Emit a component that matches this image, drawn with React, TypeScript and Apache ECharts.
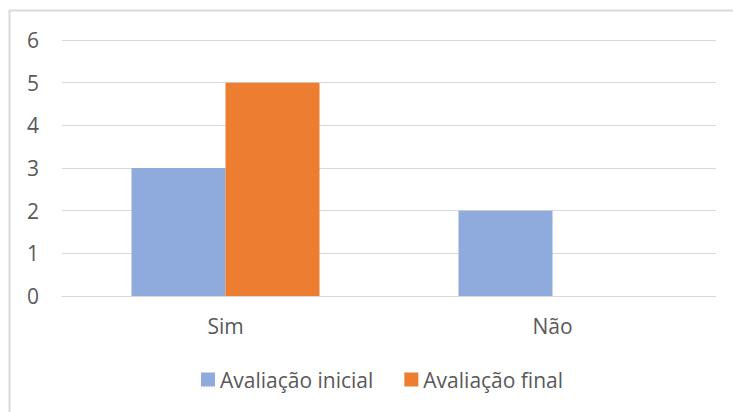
import React, { useEffect, useRef } from "react";
import * as echarts from "echarts";

const categories = ["Sim", "Não"];
const seriesNames = ["Avaliação inicial", "Avaliação final"];
const inicial = [3, 2];
const final = [5, 0];
const colors = ["#8faadc", "#ed7d31"];
const FONT = "'Open Sans', 'Liberation Sans', sans-serif";

export default function App() {
  const ref = useRef<HTMLDivElement>(null);
  useEffect(() => {
    if (!ref.current) return;
    const chart = echarts.init(ref.current, undefined, { renderer: "svg" });
    chart.setOption({
      animation: false,
      backgroundColor: "#ffffff",
      textStyle: { fontFamily: FONT },
      graphic: [
        {
          type: "rect",
          shape: { x: 9.5, y: 10.5, width: 900, height: 600 },
          style: { fill: "none", stroke: "#d9d9d9", lineWidth: 2 },
          silent: true,
        },
      ],
      grid: { left: 62, right: 17, top: 40, bottom: 116, containLabel: false },
      legend: {
        data: seriesNames,
        left: 196,
        top: 364,
        itemWidth: 14,
        itemHeight: 14,
        itemGap: 31,
        icon: "rect",
        textStyle: { fontSize: 21, color: "#595959", fontFamily: FONT },
      },
      xAxis: {
        type: "category",
        data: categories,
        axisLine: { show: true, lineStyle: { color: "#d9d9d9", width: 1 } },
        axisTick: { show: false },
        axisLabel: { fontSize: 21, color: "#595959", margin: 19, fontFamily: FONT },
      },
      yAxis: {
        type: "value",
        min: 0,
        max: 6,
        interval: 1,
        axisLine: { show: false },
        axisTick: { show: false },
        splitLine: { lineStyle: { color: "#d9d9d9", width: 1 } },
        axisLabel: { fontSize: 21, color: "#595959", margin: 23, fontFamily: FONT },
      },
      series: [
        {
          name: seriesNames[0],
          type: "bar",
          data: inicial,
          itemStyle: { color: colors[0] },
          barGap: "0%",
          barCategoryGap: "42.5%",
        },
        {
          name: seriesNames[1],
          type: "bar",
          data: final,
          itemStyle: { color: colors[1] },
          barGap: "0%",
          barCategoryGap: "42.5%",
        },
      ],
    });
    return () => chart.dispose();
  }, []);
  return (
    <div
      ref={ref}
      style={{ position: "fixed", left: 0, top: 0, width: 733, height: 412 }}
    />
  );
}
